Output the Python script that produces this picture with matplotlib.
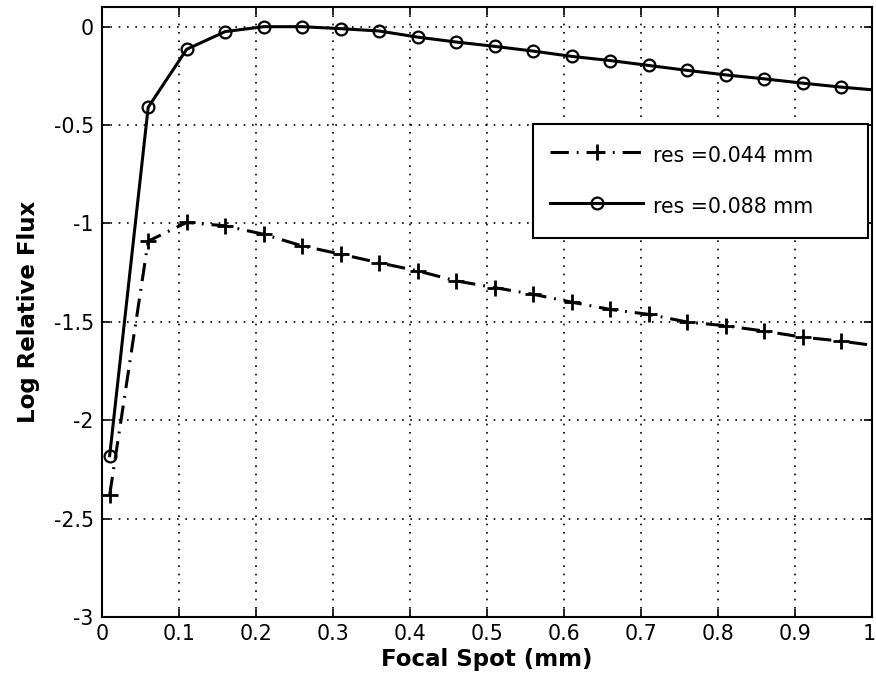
import matplotlib
matplotlib.use('Agg')
import matplotlib.pyplot as plt
from matplotlib.transforms import ScaledTranslation

plt.rcParams['font.family'] = ['DejaVu Sans']

# focal spot positions (mm)
focal_spot = [0.01, 0.06, 0.11, 0.16, 0.21, 0.26, 0.31, 0.36, 0.41, 0.46, 0.51,
              0.56, 0.61, 0.66, 0.71, 0.76, 0.81, 0.86, 0.91, 0.96, 1.01]

# log relative flux for each resolution
flux_044 = [-2.38, -1.09, -0.995, -1.012, -1.055, -1.114, -1.156, -1.20, -1.241, -1.292, -1.326,
            -1.36, -1.40, -1.437, -1.462, -1.501, -1.52, -1.547, -1.578, -1.598, -1.624]
flux_088 = [-2.18, -0.41, -0.115, -0.025, 0.0, 0.0, -0.01, -0.022, -0.053, -0.078, -0.10,
            -0.124, -0.151, -0.172, -0.197, -0.222, -0.245, -0.265, -0.287, -0.307, -0.324]

labels = ['res =0.044 mm', 'res =0.088 mm']
x_ticks = [0, 0.1, 0.2, 0.3, 0.4, 0.5, 0.6, 0.7, 0.8, 0.9, 1]
x_ticklabels = ['0', '0.1', '0.2', '0.3', '0.4', '0.5', '0.6', '0.7', '0.8', '0.9', '1']
y_ticks = [-3, -2.5, -2, -1.5, -1, -0.5, 0]
y_ticklabels = ['-3', '-2.5', '-2', '-1.5', '-1', '-0.5', '0']

fig = plt.figure(figsize=(8.76, 6.87), dpi=100)
ax = fig.add_axes([0.1164, 0.1019, 0.8790, 0.8879])

ax.plot(focal_spot, flux_044, color='black', linewidth=2.2,
        linestyle=(0, (6, 2.6, 0.6, 2.6)), marker='+', markersize=12,
        markeredgewidth=2.0, label=labels[0])
ax.plot(focal_spot, flux_088, color='black', linewidth=2.2, linestyle='-',
        marker='o', markersize=8.5, markerfacecolor='none', markeredgewidth=1.6,
        label=labels[1])

ax.set_xlim(0, 1)
ax.set_ylim(-3, 0.1)
ax.set_xticks(x_ticks)
ax.set_xticklabels(x_ticklabels)
ax.set_yticks(y_ticks)
ax.set_yticklabels(y_ticklabels)
ax.tick_params(direction='in', top=True, right=True, length=6, width=1.2,
               labelsize=14.8)
ax.tick_params(axis='x', pad=5)
ax.tick_params(axis='y', pad=6)
for sp in ax.spines.values():
    sp.set_linewidth(1.5)

# nudge the last x label so it stays inside the picture
last = ax.get_xticklabels()[-1]
last.set_transform(last.get_transform() + ScaledTranslation(-3 / 100, 0, fig.dpi_scale_trans))

ax.grid(True, color='black', linestyle=(0, (1, 4)), linewidth=1.2)

ax.set_xlabel('Focal Spot (mm)', fontsize=16.5, fontweight='bold', labelpad=3)
ax.set_ylabel('Log Relative Flux', fontsize=16.5, fontweight='bold', labelpad=10)

leg = ax.legend(loc='upper left', bbox_to_anchor=(0.5597, 0.618, 0.4351, 0.19),
                mode='expand', fontsize=14.8, frameon=True, fancybox=False,
                framealpha=1, edgecolor='black', handlelength=4.5, handleheight=1.75,
                borderpad=0.85, labelspacing=1.09, handletextpad=0.5, borderaxespad=0)
leg.get_frame().set_linewidth(1.5)

fig.savefig('out.png', dpi=100)
